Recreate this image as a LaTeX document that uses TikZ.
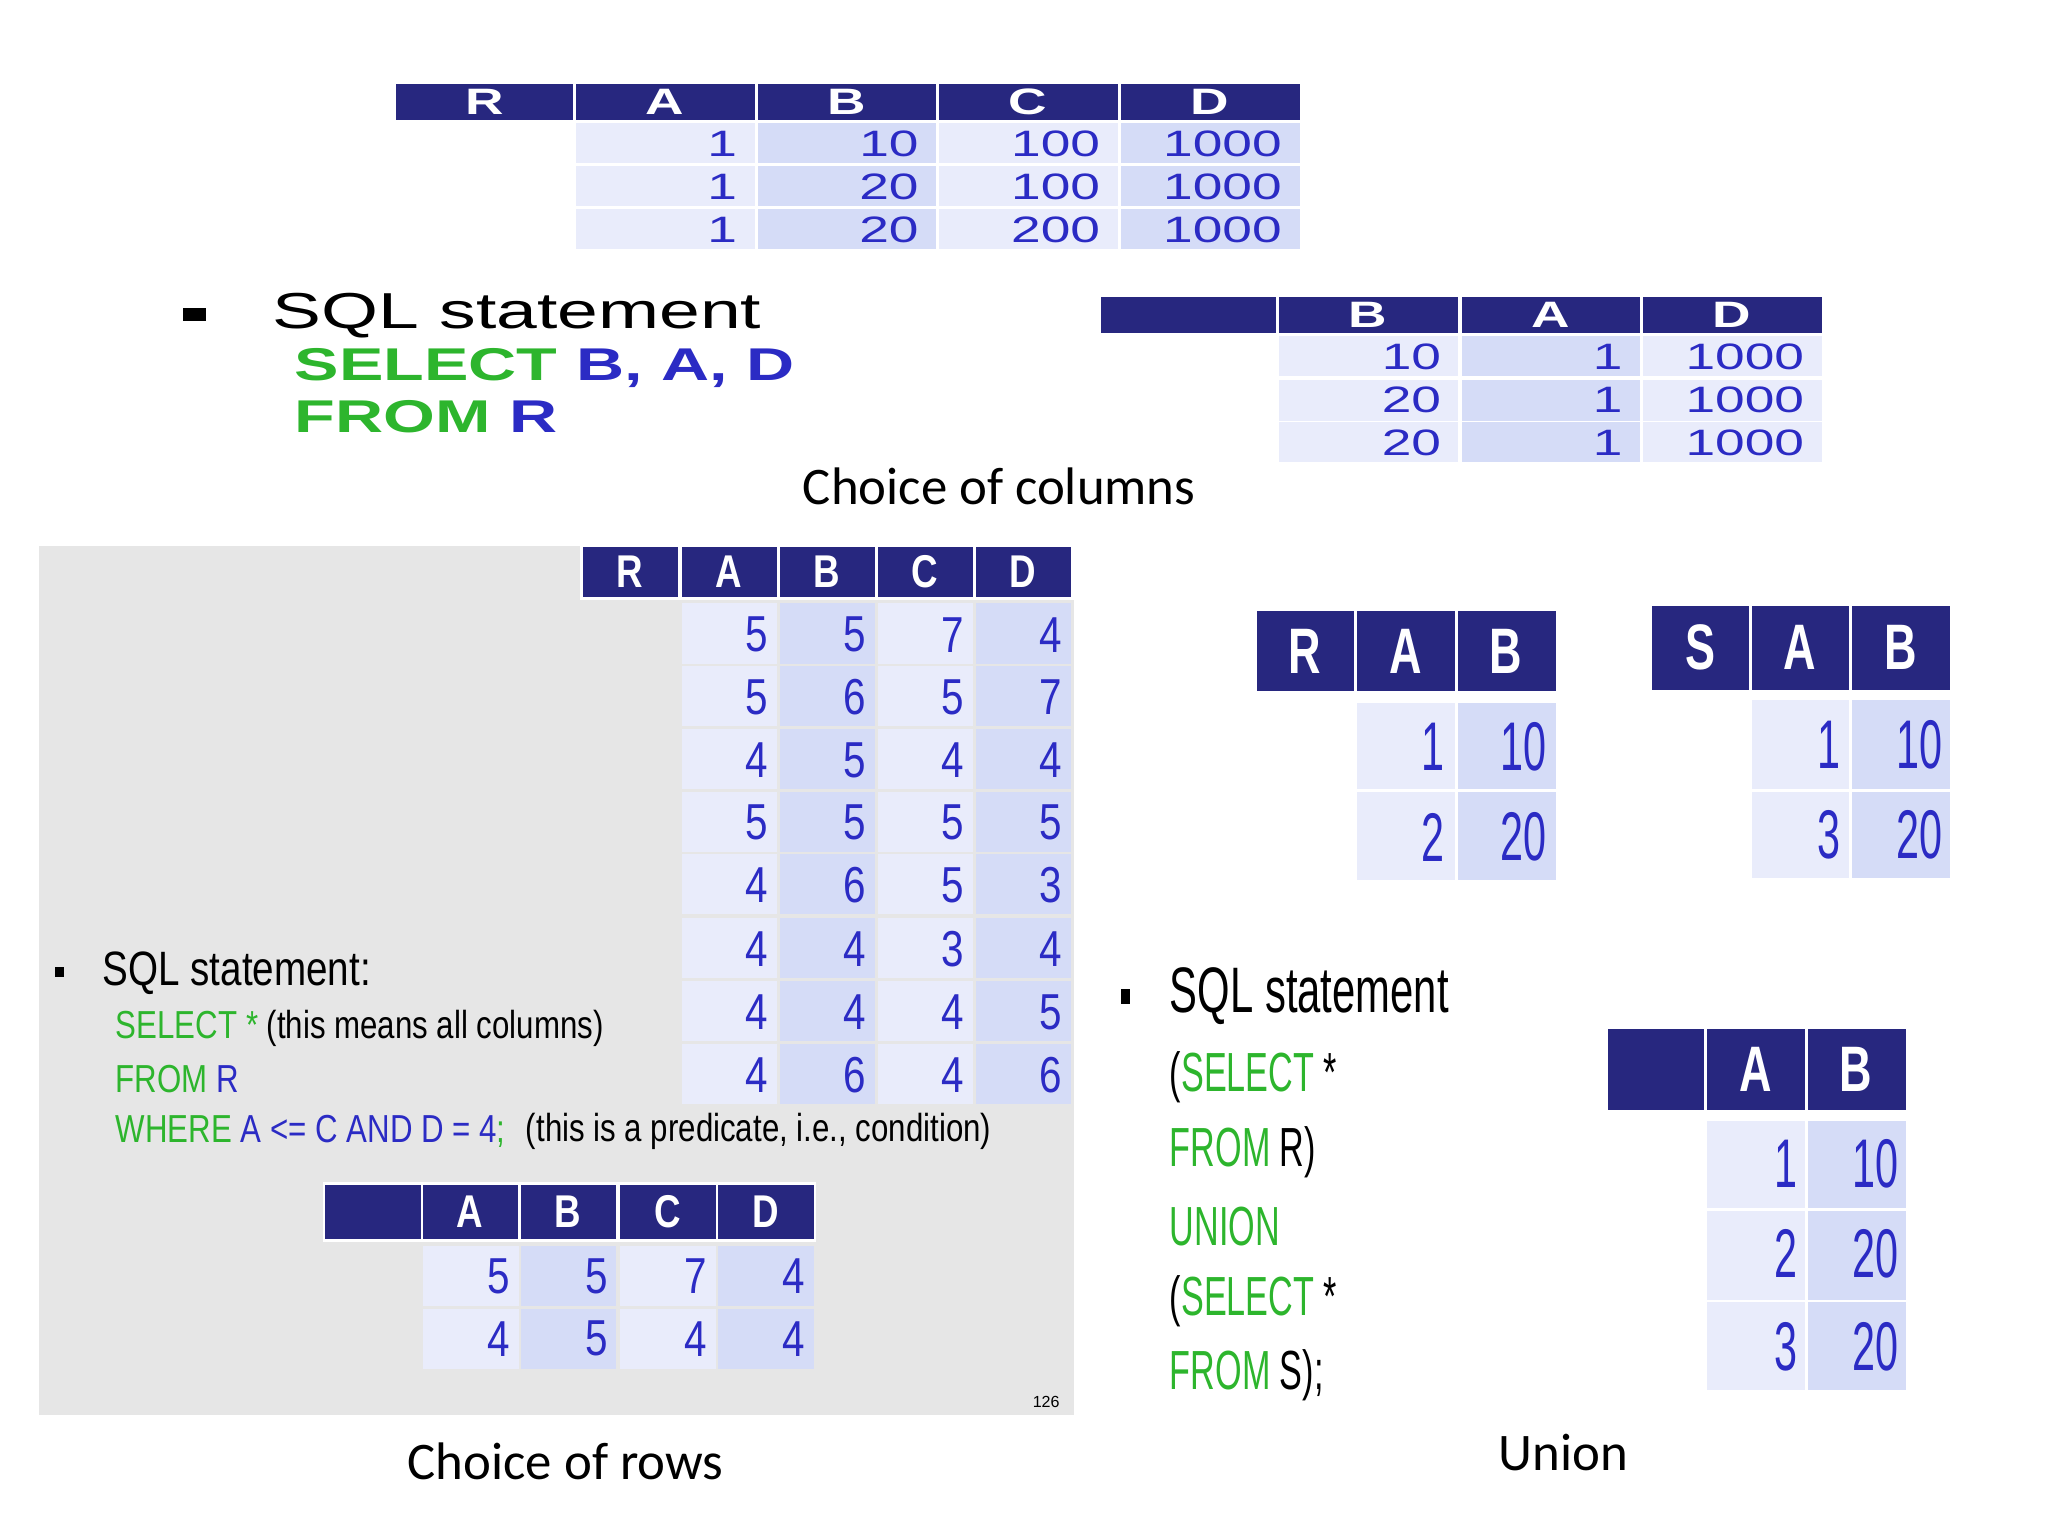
\documentclass[tikz,border=0pt]{standalone}
\usepackage{fontspec}
\usepackage{graphicx}
\setmainfont{Carlito}
\newfontfamily\wide[FakeStretch=1.45]{Liberation Sans}
\newfontfamily\arl{Liberation Sans}
\newcommand\nar[2][0.72]{\scalebox{#1}[1]{#2}}
\definecolor{hdr}{HTML}{27277F}
\definecolor{ca}{HTML}{E9ECFB}
\definecolor{cb}{HTML}{D5DCF7}
\definecolor{blu}{HTML}{2B2BC4}
\definecolor{grn}{HTML}{2DB52D}
\definecolor{pan}{HTML}{E6E6E6}
\tikzset{hd/.style={fill=hdr,draw=white,line width=0.6pt},
 ht/.style={text=white,font=#1},
 dt/.style={text=blu,anchor=east,font=#1,inner sep=0pt},
 captxt/.style={font=\fontsize{11.5}{13}\selectfont}}
\begin{document}
\begin{tikzpicture}[x=0.01cm,y=-0.01cm]
\useasboundingbox (0,0) rectangle (1568,1176);
% ---------- top: choice of columns
\foreach \x/\t in {302/R,440/A,579/B,718/C,857/D}{
 \draw[hd] (\x,63) rectangle ({\x+139},93);
 \node[ht={\wide\bfseries\fontsize{8}{9}\selectfont}] at ({\x+69},78) {\t};}
\foreach \x/\c in {440/ca,579/cb,718/ca,857/cb}
 \foreach \y in {93,126,159} \fill[\c] ({\x+1},{\y+1}) rectangle ({\x+138},{\y+32});
\foreach \y/\a/\b/\cc/\d in {110/1/10/100/1000,143/1/20/100/1000,176/1/20/200/1000}{
 \node[dt=\wide\fontsize{8}{9}\selectfont] at (565,\y) {\a};
 \node[dt=\wide\fontsize{8}{9}\selectfont] at (704,\y) {\b};
 \node[dt=\wide\fontsize{8}{9}\selectfont] at (843,\y) {\cc};
 \node[dt=\wide\fontsize{8}{9}\selectfont] at (982,\y) {\d};}
\foreach \x/\t in {842/{},978/B,1118/A,1257/D}{
 \draw[hd] (\x,226) rectangle ({\x+139},256);
 \node[ht={\wide\bfseries\fontsize{8}{9}\selectfont}] at ({\x+69},241) {\t};}
\foreach \x/\c in {978/ca,1118/cb,1257/ca}
 \foreach \y in {256,290,322} \fill[\c] ({\x+1},{\y+1}) rectangle ({\x+138},{\y+32});
\foreach \y/\a/\b/\d in {273/10/1/1000,306/20/1/1000,339/20/1/1000}{
 \node[dt=\wide\fontsize{8}{9}\selectfont] at (1104,\y) {\a};
 \node[dt=\wide\fontsize{8}{9}\selectfont] at (1243,\y) {\b};
 \node[dt=\wide\fontsize{8}{9}\selectfont] at (1382,\y) {\d};}
\fill (140,236) rectangle (158,246);
\node[anchor=west,inner sep=0pt,font=\wide\fontsize{11}{12}\selectfont] (s1) at (208,242) {SQL statement};
\node[anchor=west,inner sep=0pt,font=\wide\bfseries\fontsize{10}{11}\selectfont,text=grn] (s2) at (225,282) {SELECT \textcolor{blu}{B, A, D}};
\node[anchor=west,inner sep=0pt,font=\wide\bfseries\fontsize{10}{11}\selectfont,text=grn] (s3) at (225,319) {FROM \textcolor{blu}{R}};
\node[captxt] (c1) at (765,372) {Choice of columns};
% ---------- left panel: choice of rows
\fill[pan] (30,418) rectangle (822,1083);
\foreach \x/\t in {445/R,521/A,596/B,671/C,746/D}{
 \draw[hd] (\x,418) rectangle ({\x+75},458);
 \node[ht={\arl\bfseries\fontsize{10}{11}\selectfont}] at ({\x+37},438) {\nar[0.8]{\t}};}
\foreach \x/\c in {521/ca,596/cb,671/ca,746/cb}
 \foreach \y in {462,510,558,606,654,703,751,799} \fill[\c] ({\x+1},\y) rectangle ({\x+74},{\y+46});
\foreach \y/\a/\b/\cc/\d in {486/5/5/7/4,534/5/6/5/7,582/4/5/4/4,630/5/5/5/5,678/4/6/5/3,727/4/4/3/4,775/4/4/4/5,823/4/6/4/6}{
 \node[dt=\arl\fontsize{11}{12}\selectfont] at (589,\y) {\nar[0.8]{\a}};
 \node[dt=\arl\fontsize{11}{12}\selectfont] at (664,\y) {\nar[0.8]{\b}};
 \node[dt=\arl\fontsize{11}{12}\selectfont] at (739,\y) {\nar[0.8]{\cc}};
 \node[dt=\arl\fontsize{11}{12}\selectfont] at (814,\y) {\nar[0.8]{\d}};}
\fill (42,740) rectangle (49,748);
\node[anchor=west,inner sep=0pt,font=\arl\fontsize{10.5}{12}\selectfont] (l1) at (78,745) {\nar[0.8]{SQL statement:}};
\node[anchor=west,inner sep=0pt,font=\arl\fontsize{8.5}{10}\selectfont] (l2) at (88,787) {\nar[0.8]{\textcolor{grn}{SELECT *} (this means all columns)}};
\node[anchor=west,inner sep=0pt,font=\arl\fontsize{8.5}{10}\selectfont] (l3) at (88,826) {\nar[0.8]{\textcolor{grn}{FROM} \textcolor{blu}{R}}};
\node[anchor=west,inner sep=0pt,font=\arl\fontsize{8.5}{10}\selectfont,text=grn] (l4) at (88,866) {\nar[0.8]{WHERE \textcolor{blu}{A <= C AND D = 4};}};
\node[anchor=west,inner sep=0pt,font=\arl\fontsize{8.5}{10}\selectfont] (l5) at (402,866) {\nar[0.8]{(this is a predicate, i.e., condition)}};
\foreach \x/\t in {248/{},323/A,398/B,474/C,549/D}{
 \draw[hd] (\x,906) rectangle ({\x+75},950);
 \node[ht={\arl\bfseries\fontsize{10}{11}\selectfont}] at ({\x+37},928) {\nar[0.8]{\t}};}
\foreach \x/\c in {323/ca,398/cb,474/ca,549/cb}
 \foreach \y in {954,1002} \fill[\c] ({\x+1},\y) rectangle ({\x+74},{\y+46});
\foreach \y/\a/\b/\cc/\d in {977/5/5/7/4,1025/4/5/4/4}{
 \node[dt=\arl\fontsize{11}{12}\selectfont] at (391,\y) {\nar[0.8]{\a}};
 \node[dt=\arl\fontsize{11}{12}\selectfont] at (466,\y) {\nar[0.8]{\b}};
 \node[dt=\arl\fontsize{11}{12}\selectfont] at (542,\y) {\nar[0.8]{\cc}};
 \node[dt=\arl\fontsize{11}{12}\selectfont] at (617,\y) {\nar[0.8]{\d}};}
\node[font=\arl\fontsize{3.5}{4}\selectfont] (pg) at (801,1073) {126};
\node[captxt] (c2) at (433,1119) {Choice of rows};
% ---------- union
\foreach \x/\t in {961/R,1038/A,1115/B}{
 \draw[hd] (\x,467) rectangle ({\x+77},530);
 \node[ht={\arl\bfseries\fontsize{14}{15}\selectfont}] at ({\x+38},499) {\nar[0.7]{\t}};}
\foreach \x/\c in {1038/ca,1115/cb}
 \foreach \y/\h in {538/66,606/68} \fill[\c] ({\x+1},\y) rectangle ({\x+76},{\y+\h});
\foreach \y/\a/\b in {572/1/10,641/2/20}{
 \node[dt=\arl\fontsize{15}{16}\selectfont] at (1107,\y) {\nar[0.6]{\a}};
 \node[dt=\arl\fontsize{15}{16}\selectfont] at (1185,\y) {\nar[0.6]{\b}};}
\foreach \x/\t in {1264/S,1340/A,1417/B}{
 \draw[hd] (\x,463) rectangle ({\x+77},529);
 \node[ht={\arl\bfseries\fontsize{14}{15}\selectfont}] at ({\x+38},496) {\nar[0.7]{\t}};}
\foreach \x/\c in {1340/ca,1417/cb}
 \foreach \y/\h in {536/68,606/66} \fill[\c] ({\x+1},\y) rectangle ({\x+76},{\y+\h});
\foreach \y/\a/\b in {570/1/10,639/3/20}{
 \node[dt=\arl\fontsize{15}{16}\selectfont] at (1410,\y) {\nar[0.6]{\a}};
 \node[dt=\arl\fontsize{15}{16}\selectfont] at (1488,\y) {\nar[0.6]{\b}};}
\foreach \x/\t in {1230/{},1306/A,1383/B}{
 \draw[hd] (\x,787) rectangle ({\x+77},851);
 \node[ht={\arl\bfseries\fontsize{14}{15}\selectfont}] at ({\x+38},819) {\nar[0.7]{\t}};}
\foreach \x/\c in {1306/ca,1383/cb}
 \foreach \y/\h in {858/67,927/68,997/67} \fill[\c] ({\x+1},\y) rectangle ({\x+76},{\y+\h});
\foreach \y/\a/\b in {891/1/10,960/2/20,1031/3/20}{
 \node[dt=\arl\fontsize{15}{16}\selectfont] at (1377,\y) {\nar[0.6]{\a}};
 \node[dt=\arl\fontsize{15}{16}\selectfont] at (1454,\y) {\nar[0.6]{\b}};}
\fill (858,757) rectangle (865,769);
\node[anchor=west,inner sep=0pt,font=\arl\fontsize{14}{15}\selectfont] (u1) at (895,763) {\nar[0.65]{SQL statement}};
\foreach \y/\t [count=\i] in {825/{(\textcolor{grn}{SELECT} *},882/{\textcolor{grn}{FROM} R)},939/{\textcolor{grn}{UNION}},996/{(\textcolor{grn}{SELECT} *},1053/{\textcolor{grn}{FROM} S);}}
 \node[anchor=west,inner sep=0pt,font=\arl\fontsize{12}{13}\selectfont] (u\i x) at (895,\y) {\nar[0.62]{\t}};
\node[captxt] (c3) at (1197,1112) {Union};
\end{tikzpicture}
\end{document}
